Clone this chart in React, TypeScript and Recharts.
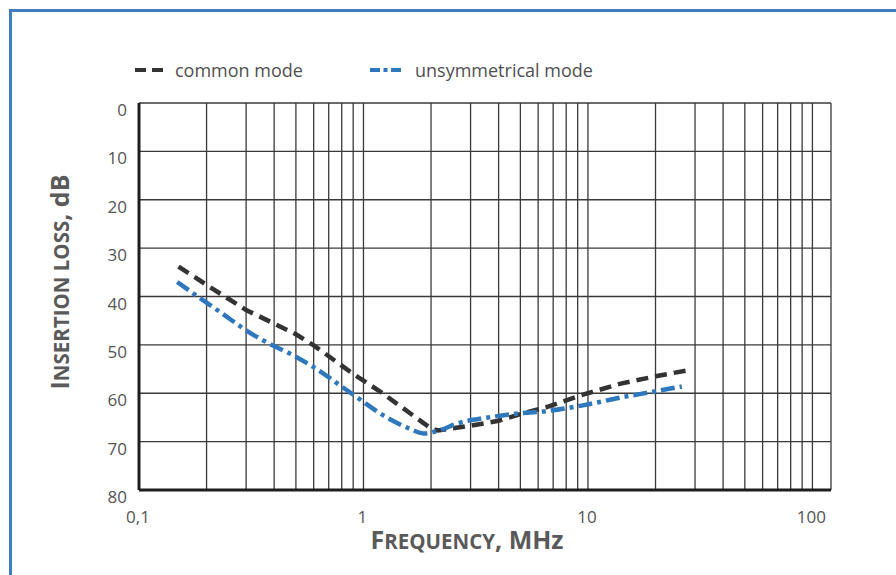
import { LineChart, Line, XAxis, YAxis, CartesianGrid, Label } from 'recharts';

// common mode (dashed)
const commonFreq = [0.15, 0.2, 0.3, 0.4, 0.5, 0.6, 0.9, 1.2, 2.0, 2.15, 3, 4, 5, 6.5, 9.5, 14, 20, 27.5];
const commonLoss = [33.8, 37.6, 42.8, 45.6, 47.8, 50.1, 56.0, 59.8, 67.3, 67.7, 66.7, 65.7, 64.3, 62.9, 60.3, 58.0, 56.5, 55.3];

// unsymmetrical mode (dash-dot)
const unsymFreq = [0.148, 0.18, 0.25, 0.3, 0.41, 0.47, 0.6, 0.87, 1.27, 1.6, 1.85, 2.2, 2.6, 3.6, 5.1, 6.5, 9.5, 14.3, 20, 26.2];
const unsymLoss = [37.0, 39.8, 44.4, 47.0, 50.5, 51.8, 54.6, 59.8, 65.0, 67.3, 68.3, 67.6, 66.3, 65.0, 64.1, 63.7, 62.5, 60.8, 59.6, 58.6];

const freqTicks = [
  0.1, 0.2, 0.3, 0.4, 0.5, 0.6, 0.7, 0.8, 0.9,
  1, 2, 3, 4, 5, 6, 7, 8, 9,
  10, 20, 30, 40, 50, 60, 70, 80, 90, 100,
];
const freqLabels: Record<string, string> = { '0.1': '0,1', '1': '1', '10': '10', '100': '100' };
const lossTicks = [0, 10, 20, 30, 40, 50, 60, 70, 80];

const commonData = commonFreq.map((f, i) => ({ f, loss: commonLoss[i] }));
const unsymData = unsymFreq.map((f, i) => ({ f, loss: unsymLoss[i] }));

const FONT = '"Open Sans", "Noto Sans", sans-serif';
const TEXT = '#555';
const DARK = '#333';
const BLUE = '#2f78bd';

const XTick = (props: any) => {
  const { x, y, payload } = props;
  const label = freqLabels[String(payload.value)] ?? '';
  if (!label) return <g />;
  return (
    <text x={x - 1} y={y + 25} textAnchor="middle" fontSize={17} fill={TEXT} fontFamily={FONT}>
      {label}
    </text>
  );
};

const YTick = (props: any) => {
  const { y, payload } = props;
  return (
    <text x={127} y={y + 13} textAnchor="end" fontSize={17} fill={TEXT} fontFamily={FONT}>
      {payload.value}
    </text>
  );
};

const XTitle = () => (
  <text x={467} y={549} textAnchor="middle" fill="#5a5a5a" fontFamily={FONT} fontWeight={700}>
    <tspan fontSize={25}>F</tspan>
    <tspan fontSize={20.5}>REQUENCY</tspan>
    <tspan fontSize={25}>, MHz</tspan>
  </text>
);

const YTitle = () => (
  <text transform="translate(69,282) rotate(-90)" textAnchor="middle" fill="#5a5a5a" fontFamily={FONT} fontWeight={700}>
    <tspan fontSize={25}>I</tspan>
    <tspan fontSize={20.5}>NSERTION LOSS</tspan>
    <tspan fontSize={25}>, dB</tspan>
  </text>
);

export default function App() {
  return (
    <div style={{ position: 'absolute', left: 0, top: 0, width: 896, height: 575, background: '#fff', overflow: 'hidden' }}>
      <div
        style={{
          position: 'absolute',
          left: 9,
          top: 9,
          width: 920,
          height: 600,
          borderTop: '3.5px solid #3d7dbf',
          borderLeft: '3.5px solid #3d7dbf',
        }}
      />
      <svg width={896} height={100} style={{ position: 'absolute', left: 0, top: 0 }}>
        <line x1={135} y1={70} x2={163} y2={70} stroke={DARK} strokeWidth={4} strokeDasharray="11 6" />
        <text x={175} y={77} fontSize={18} fontWeight={500} fill="#505050" fontFamily={FONT}>common mode</text>
        <line x1={370} y1={70} x2={402} y2={70} stroke={BLUE} strokeWidth={4} strokeDasharray="10 3.5 4 3.5" />
        <text x={415} y={77} fontSize={18} fontWeight={500} fill="#505050" fontFamily={FONT}>unsymmetrical mode</text>
      </svg>
      <div style={{ position: 'absolute', left: 0, top: 0 }}>
        <LineChart width={896} height={575} margin={{ top: 103, right: 65, bottom: 0, left: 0 }}>
          <CartesianGrid stroke="#3a3a3a" strokeWidth={1.3} />
          <XAxis
            dataKey="f"
            type="number"
            scale="log"
            domain={[0.1, 121]}
            allowDataOverflow
            ticks={freqTicks}
            interval={0}
            tick={XTick}
            tickLine={false}
            axisLine={{ stroke: '#1e1e1e', strokeWidth: 3 }}
            height={85}
          >
            <Label content={XTitle} />
          </XAxis>
          <YAxis
            type="number"
            reversed
            domain={[0, 80]}
            ticks={lossTicks}
            interval={0}
            tick={YTick}
            tickLine={false}
            axisLine={{ stroke: '#1e1e1e', strokeWidth: 3 }}
            width={139}
          >
            <Label content={YTitle} />
          </YAxis>
          <Line
            data={commonData}
            dataKey="loss"
            type="linear"
            stroke={DARK}
            strokeWidth={4.5}
            strokeDasharray="12 7"
            dot={false}
            isAnimationActive={false}
          />
          <Line
            data={unsymData}
            dataKey="loss"
            type="monotone"
            stroke={BLUE}
            strokeWidth={4.5}
            strokeDasharray="14 5 4 5"
            dot={false}
            isAnimationActive={false}
          />
        </LineChart>
      </div>
    </div>
  );
}
